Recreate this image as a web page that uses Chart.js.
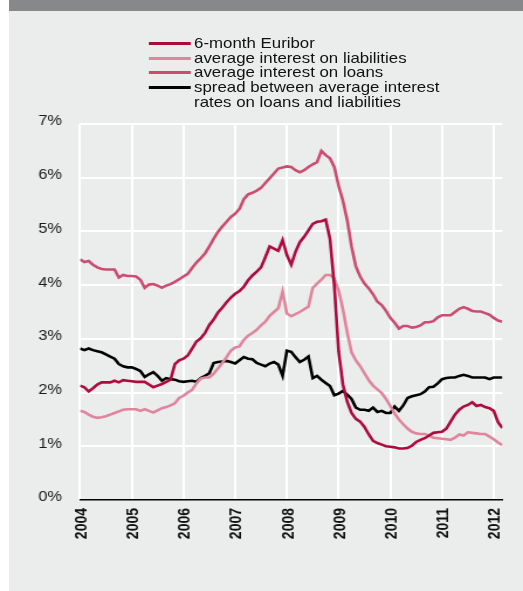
<!DOCTYPE html>
<html>
<head>
<meta charset="utf-8">
<script src="https://cdn.jsdelivr.net/npm/chart.js@4/dist/chart.umd.min.js"></script>
<style>
  html, body { margin: 0; padding: 0; background: #ffffff; }
  #panel { position: absolute; left: 9px; top: 0; width: 514px; height: 591px; background: #ebecec; }
  #band { position: absolute; left: 9px; top: 0; width: 514px; height: 11px; background: #878889; }
  #stage { position: absolute; left: 0; top: 0; width: 447px; height: 591px;
           transform: scaleX(1.17); transform-origin: 0 0; }
  #c { position: absolute; left: 0; top: 0; width: 447px; height: 591px; }
  #legend { position: absolute; left: 126.5px; top: 36.2px;
            font-family: "Liberation Sans", Arial, Helvetica, sans-serif;
            font-size: 14.4px; line-height: 14.6px; color: #111; }
  .row { display: flex; align-items: flex-start; }
  .sw { width: 36px; height: 3px; margin-top: 6px; margin-right: 3.4px; flex: none; }
  .tx { white-space: pre; }
</style>
</head>
<body>
<div id="panel"></div>
<div id="band"></div>
<div id="stage">
  <canvas id="c" width="447" height="591"></canvas>
  <div id="legend"></div>
</div>
<script>
// Year tick labels (one tick every 12 months, starting January 2004)
const years = ['2004', '2005', '2006', '2007', '2008', '2009', '2010', '2011', '2012'];

// Monthly rates in %, January 2004 to March 2012
const euribor = [
  2.13, 2.10, 2.02, 2.08, 2.15, 2.19, 2.19, 2.19, 2.22, 2.19,
  2.23, 2.22, 2.21, 2.20, 2.20, 2.20, 2.15, 2.10, 2.13, 2.16,
  2.20, 2.24, 2.53, 2.60, 2.63, 2.69, 2.82, 2.95, 3.01, 3.11,
  3.26, 3.36, 3.49, 3.58, 3.68, 3.77, 3.84, 3.89, 3.97, 4.09,
  4.18, 4.25, 4.33, 4.52, 4.72, 4.68, 4.64, 4.84, 4.56, 4.38,
  4.62, 4.80, 4.90, 5.02, 5.14, 5.18, 5.19, 5.22, 4.86, 4.00,
  2.77, 2.15, 1.83, 1.62, 1.51, 1.46, 1.36, 1.22, 1.10, 1.06,
  1.03, 1.00, 0.99, 0.98, 0.96, 0.96, 0.97, 1.01, 1.08, 1.12,
  1.15, 1.20, 1.25, 1.26, 1.27, 1.33, 1.46, 1.59, 1.68, 1.74,
  1.77, 1.82, 1.75, 1.77, 1.73, 1.71, 1.66, 1.45, 1.34
];

const liabilities = [
  1.66, 1.64, 1.59, 1.55, 1.53, 1.54, 1.56, 1.59, 1.62, 1.65,
  1.68, 1.69, 1.69, 1.69, 1.66, 1.69, 1.66, 1.63, 1.67, 1.71,
  1.73, 1.76, 1.80, 1.90, 1.94, 2.00, 2.05, 2.17, 2.26, 2.28,
  2.28, 2.35, 2.45, 2.55, 2.66, 2.78, 2.84, 2.86, 2.98, 3.06,
  3.11, 3.17, 3.25, 3.32, 3.43, 3.50, 3.57, 3.88, 3.47, 3.42,
  3.46, 3.50, 3.55, 3.60, 3.95, 4.03, 4.10, 4.19, 4.19, 4.12,
  3.90, 3.55, 3.12, 2.75, 2.60, 2.49, 2.36, 2.23, 2.13, 2.06,
  1.99, 1.88, 1.75, 1.61, 1.50, 1.41, 1.33, 1.27, 1.24, 1.23,
  1.23, 1.20, 1.16, 1.15, 1.14, 1.13, 1.12, 1.16, 1.22, 1.20,
  1.26, 1.25, 1.24, 1.23, 1.23, 1.18, 1.13, 1.07, 1.02
];

const loans = [
  4.48, 4.43, 4.45, 4.38, 4.33, 4.30, 4.29, 4.29, 4.29, 4.14,
  4.19, 4.17, 4.17, 4.16, 4.10, 3.95, 4.01, 4.02, 3.99, 3.95,
  3.99, 4.02, 4.06, 4.11, 4.16, 4.21, 4.32, 4.42, 4.50, 4.59,
  4.72, 4.86, 4.99, 5.09, 5.18, 5.27, 5.33, 5.42, 5.60, 5.69,
  5.72, 5.76, 5.81, 5.90, 5.99, 6.08, 6.17, 6.19, 6.21, 6.20,
  6.14, 6.10, 6.14, 6.20, 6.25, 6.29, 6.50, 6.42, 6.36, 6.20,
  5.85, 5.57, 5.21, 4.72, 4.35, 4.16, 4.03, 3.94, 3.83, 3.69,
  3.63, 3.52, 3.39, 3.30, 3.19, 3.24, 3.24, 3.21, 3.22, 3.25,
  3.31, 3.31, 3.33, 3.40, 3.44, 3.44, 3.44, 3.50, 3.56, 3.59,
  3.56, 3.52, 3.51, 3.51, 3.48, 3.45, 3.39, 3.34, 3.32
];

const spread = [
  2.82, 2.79, 2.82, 2.79, 2.77, 2.75, 2.71, 2.67, 2.63, 2.53,
  2.49, 2.47, 2.47, 2.44, 2.40, 2.29, 2.34, 2.38, 2.31, 2.22,
  2.27, 2.25, 2.24, 2.21, 2.20, 2.21, 2.22, 2.20, 2.27, 2.31,
  2.36, 2.55, 2.57, 2.58, 2.59, 2.57, 2.54, 2.60, 2.66, 2.63,
  2.62, 2.55, 2.52, 2.49, 2.54, 2.57, 2.52, 2.31, 2.78, 2.76,
  2.66, 2.57, 2.61, 2.67, 2.27, 2.31, 2.24, 2.18, 2.12, 1.95,
  1.98, 2.03, 1.96, 1.88, 1.72, 1.68, 1.68, 1.66, 1.72, 1.64,
  1.66, 1.62, 1.62, 1.74, 1.66, 1.76, 1.90, 1.93, 1.95, 1.97,
  2.02, 2.10, 2.11, 2.17, 2.25, 2.27, 2.28, 2.28, 2.31, 2.33,
  2.31, 2.28, 2.28, 2.28, 2.28, 2.25, 2.28, 2.28, 2.28
];

const seriesNames = [
  '6-month Euribor',
  'average interest on liabilities',
  'average interest on loans',
  'spread between average interest\nrates on loans and liabilities'
];
const seriesColors = ['#ad0b3d', '#e0859c', '#cc4c70', '#000000'];
const seriesValues = [euribor, liabilities, loans, spread];

const FONT = '"Liberation Sans", Arial, Helvetica, sans-serif';
const lastMonth = euribor.length - 1;

const datasets = seriesValues.map((vals, k) => ({
  label: seriesNames[k],
  data: vals.map((v, i) => ({ x: i, y: v })),
  borderColor: seriesColors[k],
  backgroundColor: seriesColors[k],
  borderWidth: 2.6,
  pointRadius: 0,
  tension: 0,
  fill: false
}));

new Chart(document.getElementById('c'), {
  type: 'line',
  data: { datasets },
  options: {
    responsive: false,
    animation: false,
    events: [],
    layout: { padding: { top: 124, right: 10.3, left: 0, bottom: 0 } },
    plugins: { legend: { display: false }, tooltip: { enabled: false } },
    scales: {
      x: {
        type: 'linear',
        min: 0,
        max: lastMonth,
        afterBuildTicks: (s) => { s.ticks = years.map((_, i) => ({ value: i * 12 })); },
        afterFit: (s) => { s.height = 91; },
        grid: { color: '#ffffff', lineWidth: 2, drawTicks: false },
        border: { display: true, color: '#000000', width: 1.5 },
        ticks: {
          autoSkip: false,
          minRotation: 90,
          maxRotation: 90,
          padding: 8,
          labelOffset: 1.5,
          color: '#111111',
          font: { family: FONT, size: 14, weight: 'bold' },
          callback: (v) => years[Math.round(v / 12)]
        }
      },
      y: {
        min: 0,
        max: 7,
        afterFit: (s) => { s.width = 68.4; },
        grid: {
          color: (ctx) => (ctx.tick && ctx.tick.value === 0) ? 'rgba(0,0,0,0)' : '#ffffff',
          lineWidth: 2,
          drawTicks: false
        },
        border: { display: false },
        ticks: {
          stepSize: 1,
          padding: 15.4,
          labelOffset: -2.5,
          color: '#1a1a1a',
          font: { family: FONT, size: 14 },
          callback: (v) => v + '%'
        }
      }
    }
  }
});

// Legend rows built from the same series names and colours
const legend = document.getElementById('legend');
seriesNames.forEach((name, k) => {
  const row = document.createElement('div');
  row.className = 'row';
  const sw = document.createElement('span');
  sw.className = 'sw';
  sw.style.background = seriesColors[k];
  const tx = document.createElement('span');
  tx.className = 'tx';
  tx.textContent = name;
  row.appendChild(sw);
  row.appendChild(tx);
  legend.appendChild(row);
});
</script>
</body>
</html>
